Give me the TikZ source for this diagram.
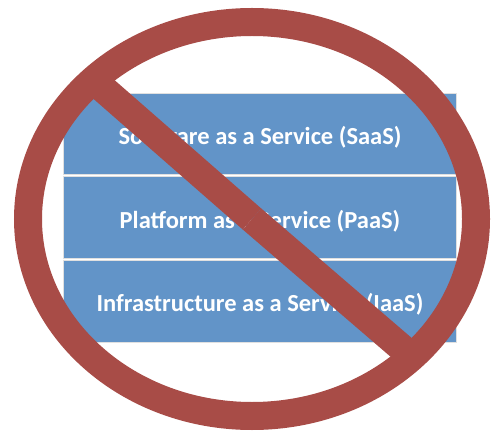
\documentclass[tikz,border=0pt]{standalone}
\usepackage{fontspec}
\setmainfont{Carlito}
\definecolor{boxblue}{RGB}{98,148,200}
\definecolor{ringred}{RGB}{168,76,71}
\begin{document}
\begin{tikzpicture}[x=1pt,y=-1pt,
  layer/.style={draw=black!12,line width=0.8pt,fill=boxblue},
  lbl/.style={text=white,font=\bfseries\fontsize{24.5}{28}\selectfont,anchor=center},
  ring/.style={draw=ringred,line width=28pt}]
\useasboundingbox (0,0) rectangle (502,443);
\fill[white] (0,0) rectangle (502,443);
% layers
\draw[layer] (63,93) rectangle (456,174);
\draw[layer] (63,176) rectangle (456,258);
\draw[layer] (63,260) rectangle (456,342);
\node[lbl] (saas) at (260,137) {Software as a Service (SaaS)};
\node[lbl] (paas) at (260,221) {Platform as a Service (PaaS)};
\node[lbl] (iaas) at (260,304) {Infrastructure as a Service (IaaS)};
% slash
\begin{scope}
\clip (252,219) ellipse [x radius=230, y radius=200];
\draw[draw=ringred,line width=28pt] (252,219) -- +(-160,-140);
\draw[draw=ringred,line width=28pt] (252,219) -- +(165,142);
\end{scope}
% ring
\draw[ring] (252,219) ellipse [x radius=224, y radius=197];
\end{tikzpicture}
\end{document}
